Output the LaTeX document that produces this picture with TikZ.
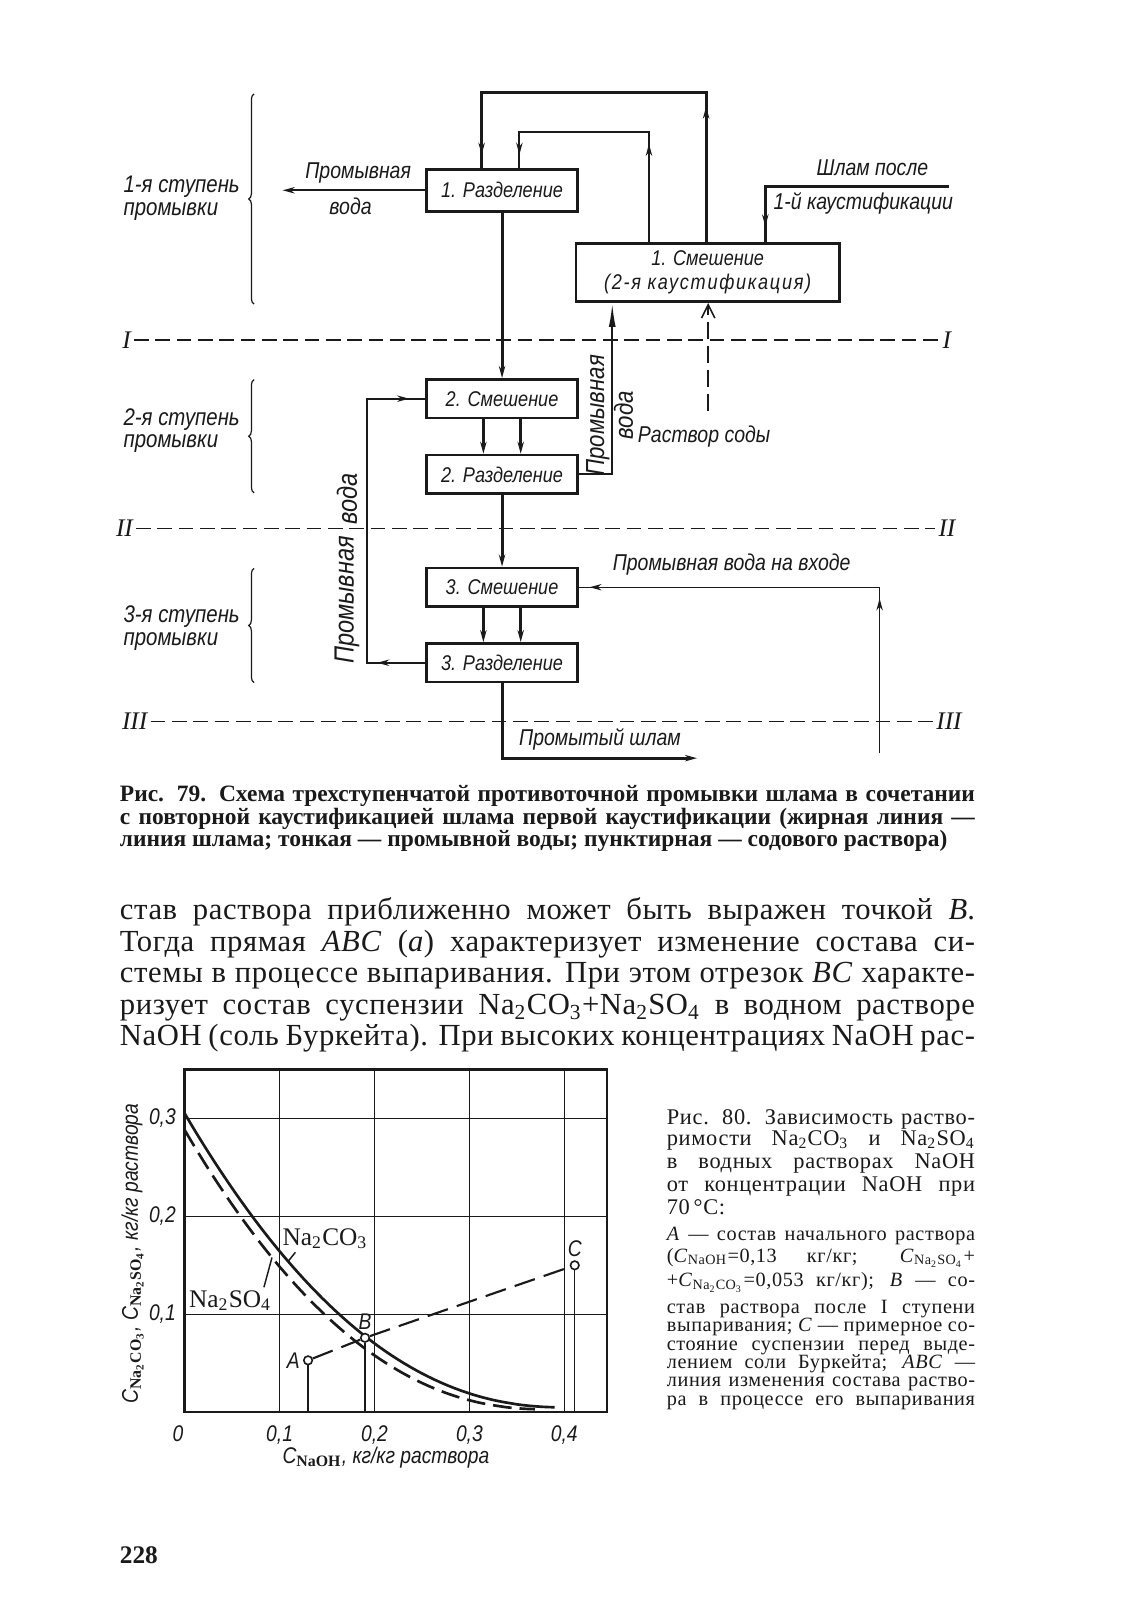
\documentclass[tikz,border=0pt]{standalone}
\usepackage{fontspec}
\setmainfont{Liberation Serif}
\newfontfamily\draftfont{Liberation Sans}[FakeStretch=0.85]
\newfontfamily\draftwide{Liberation Sans}[FakeStretch=0.85,LetterSpace=8]
\newfontfamily\bodyfont{Liberation Serif}[LetterSpace=2]
\newfontfamily\notefont{Liberation Serif}[LetterSpace=3]
\usetikzlibrary{arrows.meta,decorations.pathreplacing,decorations.markings}
\definecolor{paper}{HTML}{FFFFFF}
\definecolor{ink}{HTML}{1A1A1A}
\newlength{\PxU}
\setlength{\PxU}{0.3828pt}
\newcommand{\ColX}{492}
\newcommand{\TextL}{117}
\newcommand{\TextW}{838}
\newcommand{\NoteL}{653}
\newcommand{\NoteW}{302}
\newcommand{\DraftSize}{\fontsize{8}{9}\selectfont}
\newcommand{\jline}[2]{\makebox[#1\PxU][s]{#2}}
\newcommand{\sbs}[1]{\textsubscript{#1}}

\begin{document}
\begin{tikzpicture}[
    x=0.3828pt, y=-0.3828pt, ink,
    >={Stealth[length=4.5pt,width=2.4pt]},
    unitbox/.style={draw=ink, line width=1pt, fill=paper, minimum width=56.7pt, minimum height=14.5pt, inner sep=1pt, font=\draftfont\itshape\DraftSize},
    sludge/.style={line width=1.1pt, draw=ink},
    wash/.style={line width=0.7pt, draw=ink},
    thinwash/.style={line width=0.5pt, draw=ink},
    soda/.style={line width=0.6pt, draw=ink, dash pattern=on 6.5pt off 2.5pt},
    divider/.style={line width=0.6pt, dash pattern=on 5.5pt off 2.5pt},
    stagebrace/.style={line width=0.45pt, decorate, decoration={brace, amplitude=2pt}},
    lbl/.style={font=\draftfont\itshape\fontsize{8.6}{9.5}\selectfont, inner sep=1pt},
    risinglbl/.style={lbl, rotate=90, font=\draftfont\itshape\fontsize{9.8}{10}\selectfont},
    stagelbl/.style={lbl, anchor=west, align=left, font=\draftfont\itshape\fontsize{9}{8.6}\selectfont},
    levellbl/.style={font=\itshape\fontsize{9.5}{9.5}\selectfont, inner sep=1pt},
    tipnear/.style={postaction={decorate, decoration={markings, mark=at position #1 with {\arrow{>}}}}},
    caplbl/.style={anchor=base west, inner sep=0pt, font=\bfseries\fontsize{8.8}{10}\selectfont},
    bodylbl/.style={anchor=base west, inner sep=0pt, font=\bodyfont\fontsize{11.5}{12}\selectfont},
    notelbl/.style={anchor=base west, inner sep=0pt, font=\notefont\fontsize{8.4}{9.5}\selectfont},
    smallnote/.style={anchor=base west, inner sep=0pt, font=\notefont\fontsize{7.6}{8}\selectfont},
    gridline/.style={line width=0.55pt},
    plotframe/.style={line width=0.9pt},
    solcurve/.style={line width=1pt},
    statept/.style={circle, draw=ink, line width=0.6pt, fill=paper, inner sep=0pt, minimum size=3.2pt},
    ticklbl/.style={font=\draftfont\itshape\fontsize{8.5}{9}\selectfont, inner sep=1pt},
    chem/.style={font=\fontsize{9.5}{10}\selectfont, inner sep=1pt},
  ]
\fill[paper] (0,0) rectangle (1105,1568);
\useasboundingbox (0,0) rectangle (1105,1568);

% --- Stages of washing: labels and braces ------------------------------------
\foreach \yy/\ytop/\ybot/\num in {194/92/298/1, 422/372/483/2, 616/557/669/3} {
  \node[stagelbl] (stage\num) at (118,\yy) {\num-я ступень\\промывки};
  \draw[stagebrace] (249,\ybot) -- (249,\ytop);
}

% --- Level dividers I, II, III -------------------------------------------------
\foreach \lv/\yy/\lx/\rx in {I/333/124/928, II/518/122/928, III/707/132/930} {
  \node[levellbl] (lvL\lv) at (\lx,\yy) {\lv};
  \node[levellbl] (lvR\lv) at (\rx,\yy) {\lv};
  \draw[divider] (lvL\lv) -- (lvR\lv);
}

% --- Units ----------------------------------------------------------------------
\node[unitbox, minimum height=15.7pt] (sepA) at (\ColX,186.5) {1. Разделение};
\node[unitbox, minimum width=98.8pt, minimum height=21.7pt, align=center] (mixA) at (693.5,267.3) {1. Смешение\\{\draftwide\itshape(2-я каустификация)}};
\node[unitbox] (mixB) at (\ColX,390.7) {2. Смешение};
\node[unitbox] (sepB) at (\ColX,464.9) {2. Разделение};
\node[unitbox] (mixC) at (\ColX,575.5) {3. Смешение};
\node[unitbox] (sepC) at (\ColX,649.5) {3. Разделение};

% --- Bends of the lines ------------------------------------------------------------
\coordinate (outL) at (472,91);
\coordinate (outR) at (692,91);
\coordinate (inL) at (509,129);
\coordinate (inR) at (636,129);
\coordinate (feedIn) at (930,183);
\coordinate (feedCol) at (750,183);
\coordinate (washOut) at (277,186.5);
\coordinate (washRise) at (600,464.9);
\coordinate (sodaFoot) at (694,403);
\coordinate (washLeft) at (360,390.7);
\coordinate (inletFoot) at (862,738);
\coordinate (productEnd) at (683,743);

% --- Sludge (bold) ----------------------------------------------------------------
\draw[sludge, tipnear=51pt, tipnear=-5pt] (mixA.north -| outR) -- (outR) -- (outL) -- (sepA.north -| outL);
\draw[sludge, tipnear=-6pt] (feedIn) -- (feedCol) -- (mixA.north -| feedCol);
\draw[sludge, ->] (sepA.south) -- (mixB.north);
\draw[sludge, ->] (sepB.south) -- (mixC.north);
\foreach \dx in {-7,7} {
  \draw[sludge, ->] ([xshift=\dx pt]mixB.south) -- ([xshift=\dx pt]sepB.north);
  \draw[sludge, ->] ([xshift=\dx pt]mixC.south) -- ([xshift=\dx pt]sepC.north);
}
\draw[sludge, ->] (sepC.south) |- (productEnd);

% --- Wash water (thin) and soda solution (dashed) ---------------------------------
\draw[wash, tipnear=37pt, tipnear=-5pt] (mixA.north -| inR) -- (inR) -- (inL) -- (sepA.north -| inL);
\draw[wash, ->] (sepA.west) -- (washOut);
\draw[wash, -{Latex[length=9pt,width=2.6pt]}] (sepB.east) -| (mixA.south -| washRise);
\draw[soda, -{Straight Barb[length=5pt,width=5pt]}] (sodaFoot) -- (mixA.south -| sodaFoot);
\draw[wash, tipnear=18pt, tipnear=-6pt] (sepC.west) -| (washLeft) -- (mixB.west);
\draw[thinwash, tipnear=58pt, tipnear=-4pt] (inletFoot) |- (mixC.east);

% --- Stream labels -------------------------------------------------------------------
\node[lbl] (washOutTop) at (351,169.5) {Промывная};
\node[lbl] (washOutBot) at (343.5,202) {вода};
\node[lbl] (feedTop) at (855,164.7) {Шлам после};
\node[lbl] (feedBot) at (846,199) {1-й каустификации};
\node[risinglbl] (washRiseA) at (586,407) {Промывная};
\node[risinglbl] (washRiseB) at (611,407) {вода};
\node[lbl] (sodaLbl) at (690,428) {Раствор соды};
\node[risinglbl, font=\draftfont\itshape\fontsize{10.4}{10}\selectfont] (washLeftA) at (340,588) {Промывная};
\node[risinglbl, font=\draftfont\itshape\fontsize{10.4}{10}\selectfont] (washLeftB) at (340,489) {вода};
\node[lbl] (inletLbl) at (717,553.5) {Промывная вода на входе};
\node[lbl] (productLbl) at (588,725) {Промытый шлам};

% --- Caption of Fig. 79 ------------------------------------------------------------
\foreach \yy/\txt [count=\i] in {785/{Рис. 79. Схема трехступенчатой противоточной промывки шлама в сочетании},
    808/{с повторной каустификацией шлама первой каустификации (жирная линия~—}} {
  \node[caplbl] (capline\i) at (\TextL,\yy) {\jline{\TextW}{\txt}};
}
\node[caplbl] (capline3) at (\TextL,830) {линия шлама; тонкая — промывной воды; пунктирная — содового раствора)};

% --- Body text ----------------------------------------------------------------------
\foreach \yy/\txt [count=\i] in {901/{став раствора приближенно может быть выражен точкой \textit{B}.},
    932/{Тогда прямая \textit{ABC} (\textit{a}) характеризует изменение состава си-},
    963/{стемы в процессе выпаривания. При этом отрезок \textit{BC} характе-},
    994/{ризует состав суспензии Na\sbs{2}CO\sbs{3}+Na\sbs{2}SO\sbs{4} в водном растворе},
    1025/{NaOH (соль Буркейта). При высоких концентрациях NaOH рас-}} {
  \node[bodylbl] (body\i) at (\TextL,\yy) {\jline{\TextW}{\txt}};
}

% --- Fig. 80: solubility chart -------------------------------------------------------
\begin{scope}[shift={(181,1384)}, x=356pt, y=367.5pt]
  \coordinate (org) at (0,0);
  \foreach \gx in {0.1,0.2,0.3,0.4} \draw[gridline] (\gx,0) -- (\gx,0.35);
  \foreach \gy in {0.1,0.2,0.3} \draw[gridline] (0,\gy) -- (0.445,\gy);
  \draw[plotframe] (0,0) rectangle (0.445,0.35);
  \draw[solcurve] plot[domain=0:0.39, samples=60] (\x, {0.3*(1-\x/0.4)^2.2+0.005});
  \draw[solcurve, dash pattern=on 7pt off 3pt] plot[domain=0:0.37, samples=60] (\x, {0.285*(1-\x/0.38)^2.2+0.003});
  \node[chem] (lblCO) at (0.148,0.177) {Na\sbs{2}CO\sbs{3}};
  \node[chem] (lblSO) at (0.048,0.114) {Na\sbs{2}SO\sbs{4}};
  \coordinate (onCO) at (0.109,0.154);
  \coordinate (onSO) at (0.092,0.158);
  \draw[gridline] ([xshift=6pt]lblCO.south west) -- (onCO);
  \draw[gridline] ([xshift=-4pt]lblSO.north east) -- (onSO);
  \node[statept] (ptA) at (0.13,0.053) {};
  \node[statept] (ptB) at (0.19,0.076) {};
  \node[statept] (ptC) at (0.411,0.15) {};
  \draw[solcurve, line width=0.8pt, dash pattern=on 8pt off 3.5pt] (ptA) -- (ptB) -- (ptC);
  \foreach \p in {ptA,ptB,ptC} \draw[gridline] (\p.south) -- (\p.south |- org);
  \node[ticklbl, anchor=east] (lblA) at (ptA.west) {A};
  \node[ticklbl, anchor=south] (lblB) at (ptB.north) {B};
  \node[ticklbl, anchor=south] (lblC) at (ptC.north) {C};
  \node[ticklbl, anchor=north] (xt0) at (-0.007,-0.01) {0};
  \foreach \gx/\lbl [count=\i] in {0.1/{0,1},0.2/{0,2},0.3/{0,3},0.4/{0,4}}
    \node[ticklbl, anchor=north] (xt\i) at (\gx,-0.01) {\lbl};
  \foreach \gy/\lbl [count=\i] in {0.1/{0,1},0.2/{0,2},0.3/{0,3}}
    \node[ticklbl, anchor=east] (yt\i) at (-0.006,\gy) {\lbl};
  \node[ticklbl] (xtitle) at (0.212,-0.046) {C\sbs{\normalfont\bfseries NaOH}, кг/кг раствора};
  \node[ticklbl, rotate=90] (ytitle) at (-0.055,0.162) {C\sbs{\normalfont\bfseries Na\sbs{2}CO\sbs{3}}, C\sbs{\normalfont\bfseries Na\sbs{2}SO\sbs{4}}, кг/кг раствора};
\end{scope}

% --- Caption of Fig. 80 ------------------------------------------------------------
\foreach \yy/\txt [count=\i] in {1102/{Рис. 80. Зависимость раство-},
    1123/{римости Na\sbs{2}CO\sbs{3} и Na\sbs{2}SO\sbs{4}},
    1145/{в водных растворах NaOH},
    1168/{от концентрации NaOH при}} {
  \node[notelbl] (note\i) at (\NoteL,\yy) {\jline{\NoteW}{\txt}};
}
\node[notelbl] (note5) at (\NoteL,1190) {70\,°C:};
\foreach \yy/\txt [count=\i] in {1216/{\textit{A} — состав начального раствора},
    1237/{(\textit{C}\sbs{NaOH}=0,13 кг/кг; \textit{C}\sbs{Na\sbs{2}SO\sbs{4}}+},
    1261/{+\textit{C}\sbs{Na\sbs{2}CO\sbs{3}}=0,053 кг/кг); \textit{B} — со-},
    1287/{став раствора после I ступени},
    1305/{выпаривания; \textit{C} — примерное со-},
    1323/{стояние суспензии перед выде-},
    1341/{лением соли Буркейта; \textit{ABC} —},
    1359/{линия изменения состава раство-},
    1377/{ра в процессе его выпаривания}} {
  \node[smallnote] (small\i) at (\NoteL,\yy) {\jline{\NoteW}{\txt}};
}

% --- Page number ------------------------------------------------------------------------
\node[anchor=base west, inner sep=0pt, font=\bfseries\fontsize{9.5}{10}\selectfont] (pagenum) at (\TextL,1532) {228};

\end{tikzpicture}
\end{document}
